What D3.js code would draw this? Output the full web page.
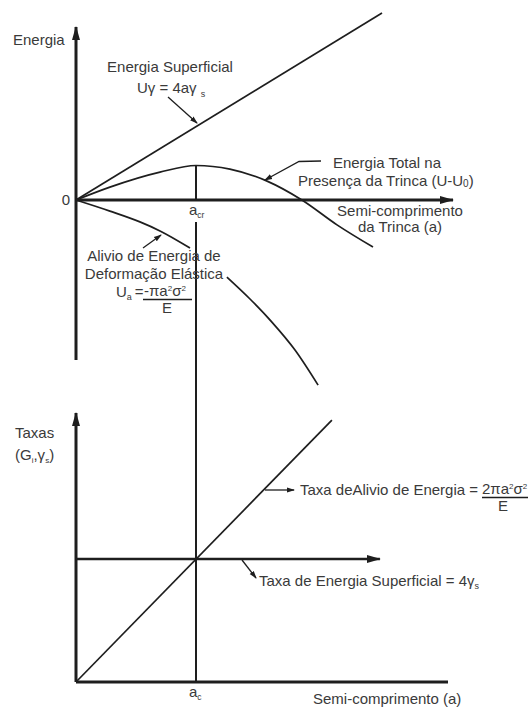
<!DOCTYPE html>
<html>
<head>
<meta charset="utf-8">
<script src="https://cdn.jsdelivr.net/npm/d3@7"></script>
<style>
  html, body { margin: 0; padding: 0; background: #fff; }
  svg { display: block; }
  text { font-family: "Liberation Sans", Arial, sans-serif; fill: #3a3a3a; font-size: 15px; }
</style>
</head>
<body>
<svg id="chart" width="528" height="707"></svg>
<script>
// ---- data (crack half-length a, energy / rate values) ----
const aCritical = 4.0;

// surface energy  Uγ = 4aγs (straight line)
const surfaceA = [0, 10.2];
const surfaceU = [0, 6.23];

// total energy in presence of the crack (U - U0)
const totalA = [0, 1.13, 2.8, 4.0, 5.13, 6.37, 7.53, 8.7, 9.9];
const totalU = [0, 0.43, 0.93, 1.15, 1.03, 0.63, 0, -0.83, -1.57];

// elastic strain energy release Ua (null = break behind the label)
const elasticA = [0, 1.13, 2.13, 2.8, 3.8, 4.4, 5.03, 5.8, 6.53, 7.3, 8.07];
const elasticU = [0, -0.37, -0.73, -1.03, -1.6, null, -2.57, -3.3, -4.07, -5.0, -6.17];

// rates panel
const releaseRateA = [0, 8.53];
const releaseRateG = [0, 8.73];
const surfaceRateA = [0, 10.13];
const surfaceRateG = [4.1, 4.1];

const zip = (xs, ys) => xs.map((a, i) => ({ a, v: ys[i] }));

const svg = d3.select("#chart");
const ink = "#1e1e1e";

// scales
const x = d3.scaleLinear().domain([0, 12.5]).range([76, 451]);
const yTop = d3.scaleLinear().domain([-5.5, 6]).range([365, 20]);
const yBot = d3.scaleLinear().domain([0, 9]).range([682, 412]);

// arrow markers
const defs = svg.append("defs");
defs.append("marker")
  .attr("id", "axisHead").attr("markerUnits", "userSpaceOnUse")
  .attr("viewBox", "0 -5 14 10").attr("refX", 13).attr("refY", 0)
  .attr("markerWidth", 14).attr("markerHeight", 10).attr("orient", "auto")
  .append("path").attr("d", "M0,-4L14,0L0,4Z").attr("fill", ink);
defs.append("marker")
  .attr("id", "leadHead").attr("markerUnits", "userSpaceOnUse")
  .attr("viewBox", "0 -4 8 8").attr("refX", 7).attr("refY", 0)
  .attr("markerWidth", 8).attr("markerHeight", 8).attr("orient", "auto")
  .append("path").attr("d", "M0,-2.6L8,0L0,2.6Z").attr("fill", ink);

function seg(x1, y1, x2, y2, w, marker) {
  const l = svg.append("line")
    .attr("x1", x1).attr("y1", y1).attr("x2", x2).attr("y2", y2)
    .attr("stroke", ink).attr("stroke-width", w);
  if (marker) l.attr("marker-end", `url(#${marker})`);
  return l;
}
function leader(points) {
  svg.append("path")
    .attr("d", d3.line()(points))
    .attr("fill", "none").attr("stroke", ink).attr("stroke-width", 1.3)
    .attr("marker-end", "url(#leadHead)");
}
function label(txt, px, py, anchor = "start") {
  return svg.append("text").attr("x", px).attr("y", py)
    .attr("text-anchor", anchor).text(txt);
}

// ---------- top panel: energies ----------
const lineTop = d3.line()
  .defined(d => d.v != null)
  .x(d => x(d.a)).y(d => yTop(d.v))
  .curve(d3.curveMonotoneX);

// critical crack length reference line (peak of total energy down to the rate axis)
const peak = d3.max(totalU);
seg(x(aCritical), yTop(peak), x(aCritical), yTop(0), 2);
seg(x(aCritical), 222, x(aCritical), yBot(0), 2);

// axes
seg(x(0), yTop(-5.33), x(0), yTop(5.77), 3, "axisHead");
seg(x(0), yTop(0), 453, yTop(0), 3, "axisHead");

// curves
svg.append("path").attr("d", lineTop(zip(surfaceA, surfaceU)))
  .attr("fill", "none").attr("stroke", ink).attr("stroke-width", 1.7);
svg.append("path").attr("d", lineTop(zip(totalA, totalU)))
  .attr("fill", "none").attr("stroke", ink).attr("stroke-width", 1.7);
svg.append("path").attr("d", lineTop(zip(elasticA, elasticU)))
  .attr("fill", "none").attr("stroke", ink).attr("stroke-width", 1.7);

// labels
label("Energia", 13, 45);
label("0", 66, 205, "middle");
label("Energia Superficial", 170, 72, "middle");
const ug = label("Uγ = 4aγ", 137, 93);
ug.append("tspan").attr("dx", 4).attr("dy", 4).attr("font-size", 9).text("s");
leader([[168, 97], [197, 123]]);

label("Energia Total na", 387, 168, "middle");
const pres = label("Presença da Trinca (U-U", 298, 186);
pres.append("tspan").attr("font-size", 10).attr("dy", 1).text("0");
pres.append("tspan").attr("dy", -1).text(")");
leader([[321, 161], [299, 161.5], [265, 180]]);

label("Semi-comprimento", 400, 216, "middle");
label("da Trinca (a)", 400, 232, "middle");

const acr = svg.append("text").attr("x", 189).attr("y", 215).attr("font-size", 16).text("a");
acr.append("tspan").attr("font-size", 8.5).attr("dy", 3).text("cr");

label("Alivio de Energia de", 154, 261, "middle");
label("Deformação Elástica", 154, 279, "middle");
const ua = label("U", 116, 297);
ua.append("tspan").attr("font-size", 9).attr("dy", 3).text("a");
ua.append("tspan").attr("dy", -3).attr("dx", 3).text("=");
const num = label("-πa", 144, 296);
num.append("tspan").attr("font-size", 8).attr("dy", -5).text("2");
num.append("tspan").attr("dy", 5).text("σ");
num.append("tspan").attr("font-size", 8).attr("dy", -5).text("2");
seg(143, 299.5, 192, 299.5, 1.6);
label("E", 167, 313, "middle");
leader([[143, 248], [161, 235]]);

// ---------- bottom panel: rates ----------
const lineBot = d3.line().x(d => x(d.a)).y(d => yBot(d.v));

seg(x(0), yBot(0), x(0), 413, 3, "axisHead");
seg(x(0), yBot(0), 448, yBot(0), 3);

svg.append("path").attr("d", lineBot(zip(releaseRateA, releaseRateG)))
  .attr("fill", "none").attr("stroke", ink).attr("stroke-width", 1.7);
svg.append("path").attr("d", lineBot(zip(surfaceRateA, surfaceRateG)))
  .attr("fill", "none").attr("stroke", ink).attr("stroke-width", 2.6)
  .attr("marker-end", "url(#axisHead)");

label("Taxas", 15, 438);
const gi = label("(G", 15, 460);
gi.append("tspan").attr("font-size", 8).attr("dy", 3).text("i");
gi.append("tspan").attr("dy", -3).text(",γ");
gi.append("tspan").attr("font-size", 8).attr("dy", 3).text("s");
gi.append("tspan").attr("dy", -3).text(")");

leader([[265, 490], [294, 490]]);
label("Taxa deAlivio de Energia =", 300, 495);
const num2 = label("2πa", 482, 494);
num2.append("tspan").attr("font-size", 8).attr("dy", -5).text("2");
num2.append("tspan").attr("dy", 5).text("σ");
num2.append("tspan").attr("font-size", 8).attr("dy", -5).text("2");
seg(482, 497.5, 528, 497.5, 1.6);
label("E", 503, 511, "middle");

leader([[242, 560], [256, 578]]);
const ts = label("Taxa de Energia Superficial = 4γ", 259, 586);
ts.append("tspan").attr("font-size", 9).attr("dy", 3).text("s");

const ac = svg.append("text").attr("x", 189).attr("y", 697).attr("font-size", 16).text("a");
ac.append("tspan").attr("font-size", 8.5).attr("dy", 3).text("c");

label("Semi-comprimento (a)", 313, 704);
</script>
</body>
</html>
